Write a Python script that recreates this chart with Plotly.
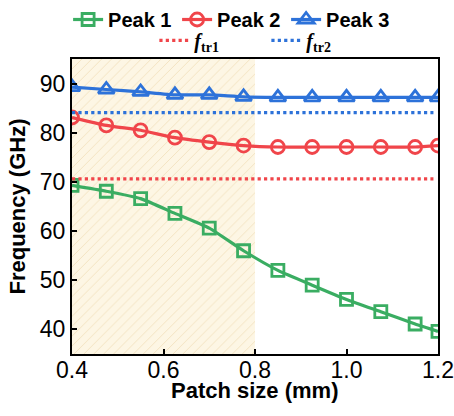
import plotly.graph_objects as go

# Patch size sweep (mm) and resonant peak frequencies (GHz)
patch_size = [0.4, 0.475, 0.55, 0.625, 0.7, 0.775, 0.85, 0.925, 1.0, 1.075, 1.15, 1.2]
peak1 = [69.3, 68.1, 66.6, 63.6, 60.6, 56.0, 52.0, 49.0, 46.1, 43.6, 41.1, 39.6]
peak2 = [83.1, 81.5, 80.5, 79.0, 78.1, 77.4, 77.1, 77.1, 77.1, 77.1, 77.1, 77.4]
peak3 = [89.3, 88.8, 88.3, 87.7, 87.7, 87.3, 87.2, 87.2, 87.2, 87.2, 87.2, 87.2]

# Transition frequencies
ftr_x = [0.4, 1.19]
ftr1 = 70.6
ftr2 = 84.1

# Highlighted patch-size window
region_x = [0.4, 0.8]
y_range = [35, 95]

GREEN = "#3aad62"
RED = "#f0454a"
BLUE = "#2d72d9"
FONT = "Liberation Sans"

fig = go.Figure()

# hatched background band
fig.add_trace(go.Bar(
    x=[(region_x[0] + region_x[1]) / 2], y=[y_range[1] - y_range[0]], base=[y_range[0]],
    width=[region_x[1] - region_x[0]],
    marker=dict(color="#fdf5e2", line=dict(width=0),
                pattern=dict(shape="/", fgcolor="#efdcb2", bgcolor="#fdf6e4",
                             size=7, solidity=0.1, fillmode="replace")),
    showlegend=False, hoverinfo="skip",
))

def peak(y, name, color, symbol, size):
    return go.Scatter(
        x=patch_size, y=y, name=f"<b>{name}</b>", mode="lines+markers",
        line=dict(color=color, width=3.2, shape="spline", smoothing=0.5),
        marker=dict(symbol=symbol, size=size, color=color, line=dict(width=2.8, color=color)),
        legend="legend",
    )

fig.add_trace(peak(peak1, "Peak 1", GREEN, "square-open", 12))
fig.add_trace(peak(peak2, "Peak 2", RED, "circle-open", 13))
fig.add_trace(peak(peak3, "Peak 3", BLUE, "triangle-up-open", 14))

sub = '<span style="font-family:Liberation Serif"><b><i>f</i></b><sub><b>%s</b></sub></span>'
fig.add_trace(go.Scatter(
    x=ftr_x, y=[ftr1, ftr1], mode="lines", name=sub % "tr1",
    line=dict(color=RED, width=3.2, dash="dot"), legend="legend2",
))
fig.add_trace(go.Scatter(
    x=ftr_x, y=[ftr2, ftr2], mode="lines", name=sub % "tr2",
    line=dict(color=BLUE, width=3.2, dash="dot"), legend="legend2",
))

axis_common = dict(
    showline=True, linecolor="black", linewidth=2, mirror=True,
    ticks="inside", ticklen=5, tickwidth=1.5, tickcolor="black",
    showgrid=False, zeroline=False, automargin=False,
    tickfont=dict(family=FONT, size=23, color="black"),
)

fig.update_layout(
    width=454, height=416,
    margin=dict(l=72, r=16, t=59, b=62, autoexpand=False),
    paper_bgcolor="white", plot_bgcolor="white",
    font=dict(family=FONT, color="black"),
    bargap=0,
    xaxis=dict(range=[0.4, 1.2], tickvals=[0.4, 0.6, 0.8, 1.0, 1.2], tickformat=".1f",
               ticklabelstandoff=-6, **axis_common),
    yaxis=dict(range=y_range, tickvals=[40, 50, 60, 70, 80, 90], **axis_common),
    legend=dict(orientation="h", x=0.15, xanchor="left", xref="container",
                y=1.0, yanchor="top", yref="container",
                font=dict(family=FONT, size=20),
                bgcolor="rgba(0,0,0,0)", itemwidth=30, entrywidth=64,
                traceorder="normal"),
    legend2=dict(orientation="h", x=0.34, xanchor="left", xref="container",
                 y=0.95, yanchor="top", yref="container",
                 font=dict(family=FONT, size=20),
                 bgcolor="rgba(0,0,0,0)", itemwidth=30, entrywidth=67),
    annotations=[
        dict(text="<b>Patch size (mm)</b>", xref="paper", yref="paper", x=0.5, y=0,
             yshift=-36, xanchor="center", yanchor="middle", showarrow=False,
             font=dict(family=FONT, size=22, color="black")),
        dict(text="<b>Frequency (GHz)</b>", xref="paper", yref="paper", x=0, y=0.5,
             xshift=-55, xanchor="center", yanchor="middle", textangle=-90, showarrow=False,
             font=dict(family=FONT, size=22, color="black")),
    ],
)
fig.update_xaxes(tickprefix="<b>", ticksuffix="</b>")
fig.update_yaxes(tickprefix="<b>", ticksuffix="</b>")

fig.write_html("out.html")
